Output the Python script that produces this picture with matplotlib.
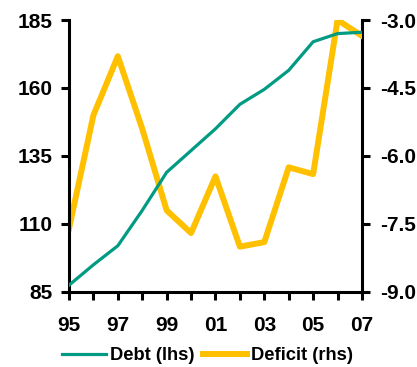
import matplotlib
matplotlib.use("Agg")
import matplotlib.pyplot as plt
from matplotlib.ticker import FixedLocator

plt.rcParams['font.family'] = ['Liberation Sans', 'DejaVu Sans']
plt.rcParams['font.weight'] = 'bold'

years = [1995, 1996, 1997, 1998, 1999, 2000, 2001, 2002, 2003, 2004, 2005, 2006, 2007]
debt = [87.5, 95, 102, 115, 129, 137, 145, 154, 159.5, 166.5, 177, 180, 180.5]
deficit = [-7.6, -5.1, -3.8, -5.4, -7.2, -7.7, -6.45, -8.0, -7.9, -6.25, -6.4, -3.0, -3.35]

left_ticks = [85, 110, 135, 160, 185]
right_ticks = [-9.0, -7.5, -6.0, -4.5, -3.0]
x_labels = ['95', '97', '99', '01', '03', '05', '07']

teal = '#009B82'
amber = '#FFC000'

fig = plt.figure(figsize=(4.17, 3.67), dpi=100)
ax = fig.add_axes([0.1655, 0.2044, 0.868 - 0.1655, 0.9455 - 0.2044])
ax2 = ax.twinx()

l1, = ax.plot(years, debt, color=teal, lw=2.3, label='Debt (lhs)', zorder=3)
l2, = ax2.plot(years, deficit, color=amber, lw=4.3, label='Deficit (rhs)', zorder=3)

ax.set_xlim(1995, 2007)
ax.set_ylim(85, 185)
ax2.set_ylim(-9.0, -3.0)

ax.set_yticks(left_ticks)
ax.set_yticklabels([str(v) for v in left_ticks])
ax2.set_yticks(right_ticks)
ax2.set_yticklabels([f'{v:.1f}' for v in right_ticks])

ax.xaxis.set_major_locator(FixedLocator(years[::2]))
ax.set_xticklabels(x_labels)
ax.xaxis.set_minor_locator(FixedLocator(years[1::2]))

for a in (ax, ax2):
    for s in a.spines.values():
        s.set_linewidth(2.2)
    a.spines['top'].set_visible(False)

ax.spines['right'].set_visible(False)
ax2.spines['left'].set_visible(False)
ax2.spines['bottom'].set_visible(False)

ax.tick_params(axis='y', direction='out', length=6, width=2.2, labelsize=15, pad=6)
ax2.tick_params(axis='y', direction='out', length=6, width=2.2, labelsize=15, pad=7)
ax.tick_params(axis='x', which='both', direction='out', length=6, width=2.2,
               labelsize=15, pad=11)

ax.set_zorder(ax2.get_zorder() + 1)
ax.patch.set_visible(False)

fig.legend([l1, l2], ['Debt (lhs)', 'Deficit (rhs)'], loc='center',
           bbox_to_anchor=(0.498, 0.03), ncol=2, frameon=False,
           handlelength=2.4, handletextpad=0.2, columnspacing=0.5,
           prop={'weight': 'bold', 'size': 13.2})

fig.savefig('out.png', dpi=100)
